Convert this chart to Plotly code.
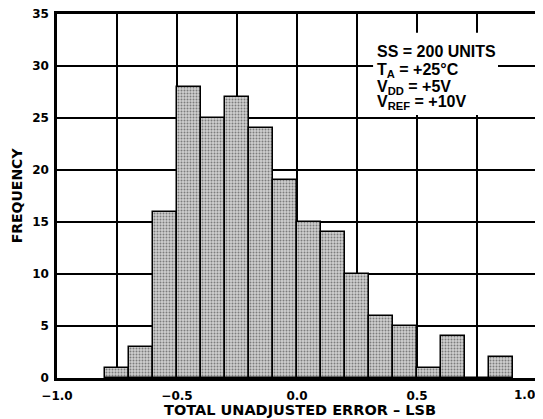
import plotly.graph_objects as go

bin_left = [-0.8, -0.7, -0.6, -0.5, -0.4, -0.3, -0.2, -0.1, 0.0, 0.1, 0.2, 0.3, 0.4, 0.5, 0.6, 0.7, 0.8]
counts = [1, 3, 16, 28, 25, 27, 24, 19, 15, 14, 10, 6, 5, 1, 4, 0, 2]
bin_width = 0.1

x_tickvals = [-1.0, -0.75, -0.5, -0.25, 0.0, 0.25, 0.5, 0.75, 1.0]
x_ticktext = ["\u22121.0", "", "\u22120.5", "", "0.0", "", "0.5", "", ""]
x_last_label = "1.0"
y_tickvals = [0, 5, 10, 15, 20, 25, 30, 35]
y_ticktext = ["0", "5", "10", "15", "20", "25", "30", "35"]

note_lines = ["SS = 200 UNITS", "T<sub>A</sub> = +25°C", "V<sub>DD</sub> = +5V", "V<sub>REF</sub> = +10V"]
x_title = "TOTAL UNADJUSTED ERROR \u2013 LSB"
y_title = "FREQUENCY"

centers = [b + bin_width / 2 for b in bin_left]

FAM = "DejaVu Sans, Liberation Sans, Arial, sans-serif"

fig = go.Figure()
fig.add_trace(go.Bar(
    x=centers, y=counts, width=bin_width,
    marker=dict(
        color="#c0c0c0",
        line=dict(color="black", width=1.5),
        pattern=dict(shape=".", fgcolor="#2a2a2a", bgcolor="#cfcfcf", size=3, solidity=0.35),
    ),
    showlegend=False,
))

tick_font = dict(family=FAM, size=12, color="black", weight="bold")

annotations = [
    dict(x=0.506, y=-0.0875, xref="paper", yref="paper", xanchor="center", yanchor="middle",
         text=x_title, showarrow=False, font=dict(family=FAM, size=14.5, color="black", weight="bold")),
    dict(x=-0.0845, y=0.503, xref="paper", yref="paper", xanchor="center", yanchor="middle",
         text=y_title, textangle=-90, showarrow=False,
         font=dict(family=FAM, size=14, color="black", weight="bold")),
    dict(x=1.0, y=-0.047, xref="paper", yref="paper", xanchor="right", yanchor="middle",
         text=x_last_label, showarrow=False, font=tick_font),
]
line_y = [31.35, 29.58, 27.97, 26.53]
for txt, yy in zip(note_lines, line_y):
    annotations.append(dict(
        x=0.325, y=yy, xref="x", yref="y", xanchor="left", yanchor="middle",
        text=txt, showarrow=False, align="left",
        font=dict(family="Liberation Sans, Arial, sans-serif", size=16, color="black", weight="bold"),
    ))

# page body has an 8px default margin, so the figure is sized to fit within it
fig.update_layout(
    width=535, height=411,
    margin=dict(l=49, r=6, t=6, b=41),
    paper_bgcolor="white", plot_bgcolor="white",
    bargap=0,
    xaxis=dict(
        range=[-1.0, 1.0], tickvals=x_tickvals, ticktext=x_ticktext,
        showgrid=True, gridcolor="black", gridwidth=1.5,
        showline=True, linecolor="black", linewidth=2.5, mirror=True,
        zeroline=False, ticks="", tickfont=tick_font, automargin=False,
        ticklabelstandoff=5, ticklabeloverflow="allow",
    ),
    yaxis=dict(
        range=[0, 35], tickvals=y_tickvals, ticktext=y_ticktext,
        showgrid=True, gridcolor="black", gridwidth=1.5,
        showline=True, linecolor="black", linewidth=2.5, mirror=True,
        zeroline=False, ticks="", tickfont=tick_font, automargin=False,
        ticklabelstandoff=3, ticklabeloverflow="allow",
    ),
    shapes=[dict(type="rect", xref="x", yref="y", x0=0.317, x1=0.8375, y0=25.3, y1=33.2,
                 fillcolor="white", line=dict(width=0), layer="above")],
    annotations=annotations,
)

fig.write_html("out.html")
